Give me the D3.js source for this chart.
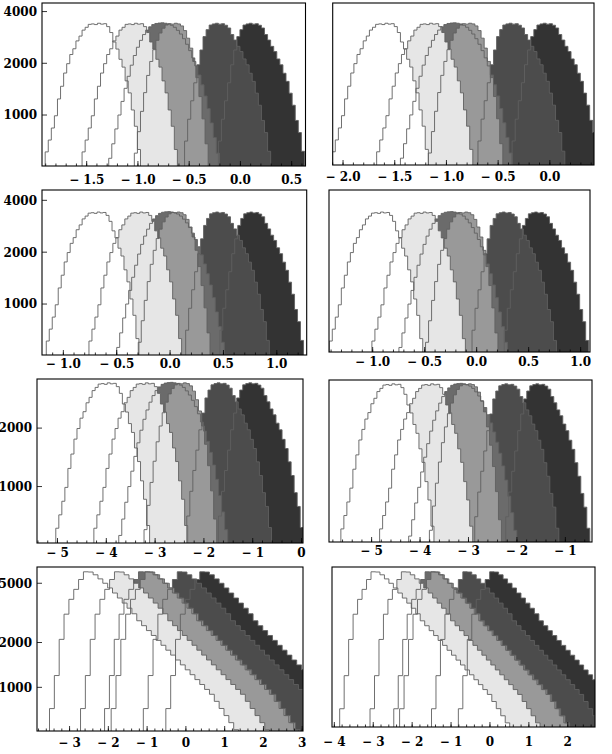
<!DOCTYPE html>
<html>
<head>
<meta charset="utf-8">
<script src="https://cdn.jsdelivr.net/npm/d3@7"></script>
<style>
  body { margin: 0; background: #fff; }
  text { font-family: "DejaVu Serif", serif; font-weight: bold; font-size: 12px; fill: #000; }
</style>
</head>
<body>
<svg id="chart" width="612" height="754"></svg>
<script>
// fill of each series, lightest drawn on top
const fills = ['#ffffff', '#e6e6e6', '#999999', '#6b6b6b', '#4c4c4c', '#333333'];

// counts per bin (rows 1-3)
const bellLeftCounts = [480, 610, 715, 840, 990, 1240, 1470, 1755, 1990, 2250, 2430, 2700, 2880,
  3120, 3240, 3370, 3390, 3360, 3420, 3380, 3400, 3270, 3020, 2660, 2420, 2110, 1900, 1580, 1345,
  1070, 860, 630, 475, 350];
// third series: short right flank
const bellNarrowCounts = [470, 600, 800, 1050, 1350, 1700, 2050, 2400, 2720, 3000, 3200, 3340,
  3400, 3380, 3420, 3390, 3300, 3100, 2800, 2450, 2050, 1650, 1280, 950, 680, 480];
// fourth series: broadest of all
const bellWideCounts = [470, 560, 680, 830, 1000, 1200, 1430, 1680, 1950, 2220, 2480, 2720, 2940,
  3120, 3260, 3360, 3410, 3430, 3440, 3420, 3390, 3330, 3240, 3110, 2960, 2780, 2580, 2370, 2150,
  1930, 1710, 1500, 1290, 1090, 900, 740, 600, 490];
const bellRightCounts = [450, 705, 945, 1210, 1540, 1960, 2390, 2860, 3140, 3340, 3390, 3420, 3380,
  3400, 3330, 3210, 2940, 2730, 2510, 2340, 2120, 1960, 1750, 1570, 1340, 1140, 930, 790, 615, 480];

// counts per bin for the bottom row (steep rise, long tail)
const tailCounts = [500, 720, 1200, 2100, 3100, 3900, 4550, 5300, 5970, 5950, 5700, 5350, 5000,
  4650, 4300, 3980, 3680, 3400, 3120, 2800, 2595, 2405, 2230, 2067, 1916, 1776, 1646, 1526, 1415,
  1311, 1216, 1127, 1045, 968, 898, 805, 721, 646, 579, 519, 465, 417];
const tailWideCounts = [500, 720, 1200, 2100, 3100, 3900, 4550, 5300, 5970, 5960, 5950, 5700, 5350,
  5000, 4650, 4300, 3980, 3680, 3400, 3120, 2800, 2595, 2405, 2230, 2067, 1916, 1776, 1646, 1526,
  1415, 1311, 1216, 1127, 1045, 968, 898, 805, 721, 646, 579, 519, 465, 417];

const bellShapes = [bellLeftCounts, bellLeftCounts, bellNarrowCounts, bellWideCounts, bellRightCounts, bellRightCounts];
const tailShapes = [tailCounts, tailCounts, tailCounts, tailWideCounts, tailCounts, tailCounts];

// position of the highest bin of each series, per panel
const p1Peaks = [-1.38, -1.02, -0.63, -0.76, -0.23, 0.10];
const p2Peaks = [-1.58, -1.15, -0.77, -0.92, -0.38, -0.05];
const p3Peaks = [-0.67, -0.27, 0.08, -0.01, 0.44, 0.76];
const p4Peaks = [-0.91, -0.50, -0.10, -0.24, 0.26, 0.57];
const p5Peaks = [-3.95, -3.17, -2.39, -2.66, -1.70, -1.05];
const p6Peaks = [-4.55, -3.75, -2.97, -3.15, -2.22, -1.58];
const p7Peaks = [-2.58, -1.78, -0.99, -1.16, -0.16, 0.42];
const p8Peaks = [-3.00, -2.22, -1.46, -1.61, -0.64, 0.05];

const xTicks1 = [-1.5, -1, -0.5, 0, 0.5];
const xTicks2 = [-2, -1.5, -1, -0.5, 0];
const xTicks3 = [-1, -0.5, 0, 0.5, 1];
const xTicks5 = [-5, -4, -3, -2, -1, 0];
const xTicks6 = [-5, -4, -3, -2, -1];
const xTicks7 = [-3, -2, -1, 0, 1, 2, 3];
const xTicks8 = [-4, -3, -2, -1, 0, 1, 2];
const yTicksA = [1000, 2000, 4000];
const yTicksC = [1000, 2000];
const yTicksD = [1000, 2000, 5000];

const panels = [
  {box: [42, 3, 305.5, 166], x: [-1.936, 0.635], y: [505, 4487], xt: xTicks1, minor: 0.1, dec: 1, lab: 14, yt: yTicksA, bin: 0.03, peaks: p1Peaks, shapes: bellShapes},
  {box: [332.7, 3, 594, 165], x: [-2.10, 0.427], y: [511, 4487], xt: xTicks2, minor: 0.1, dec: 1, lab: 12, yt: [], bin: 0.03, peaks: p2Peaks, shapes: bellShapes},
  {box: [42, 190, 306.7, 355], x: [-1.20, 1.28], y: [506, 4592], xt: xTicks3, minor: 0.1, dec: 1, lab: 9, yt: yTicksA, bin: 0.028, peaks: p3Peaks, shapes: bellShapes},
  {box: [329, 190, 590, 352], x: [-1.42, 1.09], y: [527, 4592], xt: xTicks3, minor: 0.1, dec: 1, lab: 10, yt: [], bin: 0.029, peaks: p4Peaks, shapes: bellShapes},
  {box: [37, 379, 303, 543], x: [-5.42, 0.03], y: [512, 3580], xt: xTicks5, minor: 0.2, dec: 0, lab: 10, yt: yTicksC, bin: 0.062, peaks: p5Peaks, shapes: bellShapes},
  {box: [329, 380, 592, 542], x: [-5.88, -0.45], y: [522, 3580], xt: xTicks6, minor: 0.2, dec: 0, lab: 9, yt: [], bin: 0.062, peaks: p6Peaks, shapes: bellShapes},
  {box: [37, 567, 303, 731], x: [-3.84, 3.02], y: [509, 6430], xt: xTicks7, minor: 0.2, dec: 0, lab: 12, yt: yTicksD, bin: 0.125, peaks: p7Peaks, shapes: tailShapes},
  {box: [332, 567, 595, 727], x: [-4.06, 2.70], y: [543, 6430], xt: xTicks8, minor: 0.2, dec: 0, lab: 15, yt: [], bin: 0.115, peaks: p8Peaks, shapes: tailShapes}
];

const svg = d3.select('#chart');

function fmt(v, dec) {
  const s = Math.abs(v).toFixed(dec);
  return v < -1e-9 ? '\u2212 ' + s : s;
}

panels.forEach((p, pi) => {
  const [x0, y0, x1, y1] = p.box;
  const x = d3.scaleLinear().domain(p.x).range([x0, x1]);
  const y = d3.scaleLog().domain(p.y).range([y1, y0]);

  const g = svg.append('g');
  g.append('clipPath').attr('id', 'clip' + pi)
    .append('rect').attr('x', x0).attr('y', y0).attr('width', x1 - x0).attr('height', y1 - y0);

  const plot = g.append('g').attr('clip-path', `url(#clip${pi})`);

  const series = p.peaks.map((peak, i) => {
    const counts = p.shapes[i];
    const top = d3.maxIndex(counts);
    const bins = counts.map((c, j) => ({
      a: peak + (j - top - 0.5) * p.bin,
      b: peak + (j - top + 0.5) * p.bin,
      c
    }));
    return {i, bins};
  });

  const stepPath = s => {
    const path = d3.path();
    const base = y1 + 4;
    path.moveTo(x(s.bins[0].a), base);
    s.bins.forEach(d => {
      const yy = Math.min(y(d.c), base);
      path.lineTo(x(d.a), yy);
      path.lineTo(x(d.b), yy);
    });
    path.lineTo(x(s.bins[s.bins.length - 1].b), base);
    return path.toString();
  };

  // darkest first so that the lighter ones cover it
  const order = series.slice().reverse();
  plot.selectAll('path.fill')
    .data(order)
    .join('path')
      .attr('class', 'fill')
      .attr('d', stepPath)
      .attr('fill', d => fills[d.i])
      .attr('stroke', 'none');

  plot.selectAll('path.edge')
    .data(order)
    .join('path')
      .attr('class', 'edge')
      .attr('d', stepPath)
      .attr('fill', 'none')
      .attr('stroke', '#606060')
      .attr('stroke-width', 0.9);

  // bottom ticks
  const minors = d3.range(Math.ceil(p.x[0] / p.minor), Math.floor(p.x[1] / p.minor) + 1)
    .map(k => k * p.minor);
  g.selectAll('line.minor')
    .data(minors)
    .join('line')
      .attr('x1', d => x(d)).attr('x2', d => x(d))
      .attr('y1', y1).attr('y2', y1 - 2.5)
      .attr('stroke', '#000').attr('stroke-width', 0.8);
  g.selectAll('line.major')
    .data(p.xt)
    .join('line')
      .attr('x1', d => x(d)).attr('x2', d => x(d))
      .attr('y1', y1).attr('y2', y1 - 5)
      .attr('stroke', '#000').attr('stroke-width', 0.8);
  g.selectAll('text.xl')
    .data(p.xt)
    .join('text')
      .attr('class', 'xl')
      .attr('x', d => x(d))
      .attr('y', y1 + p.lab)
      .attr('dy', '0.36em')
      .attr('text-anchor', 'middle')
      .text(d => fmt(d, p.dec));

  // left ticks
  g.selectAll('line.yt')
    .data(p.yt)
    .join('line')
      .attr('x1', x0).attr('x2', x0 + 5)
      .attr('y1', d => y(d)).attr('y2', d => y(d))
      .attr('stroke', '#000').attr('stroke-width', 0.8);
  g.selectAll('text.yl')
    .data(p.yt)
    .join('text')
      .attr('class', 'yl')
      .attr('x', x0 - 5)
      .attr('y', d => y(d))
      .attr('dy', '0.36em')
      .attr('text-anchor', 'end')
      .text(d => d);

  g.append('rect')
    .attr('x', x0).attr('y', y0)
    .attr('width', x1 - x0).attr('height', y1 - y0)
    .attr('fill', 'none')
    .attr('stroke', '#000')
    .attr('stroke-width', 1.1);
});
</script>
</body>
</html>
